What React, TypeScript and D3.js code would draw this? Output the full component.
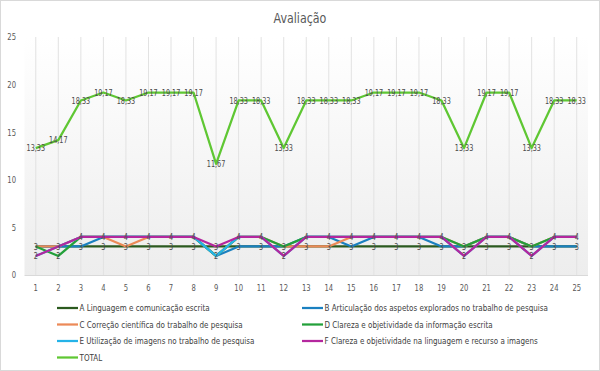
import React from "react";
import * as d3 from "d3";

const categories = d3.range(1, 26).map(String);

const serieA = [3, 3, 3, 3, 3, 3, 3, 3, 3, 3, 3, 3, 3, 3, 3, 3, 3, 3, 3, 3, 3, 3, 3, 3, 3];
const serieB = [3, 3, 3, 4, 4, 4, 4, 4, 2, 3, 3, 3, 4, 4, 3, 4, 4, 4, 3, 3, 4, 4, 3, 3, 3];
const serieC = [3, 3, 4, 4, 3, 4, 4, 4, 2, 4, 4, 3, 3, 3, 4, 4, 4, 4, 4, 3, 4, 4, 3, 4, 4];
const serieD = [3, 2, 4, 4, 4, 4, 4, 4, 2, 4, 4, 3, 4, 4, 4, 4, 4, 4, 4, 3, 4, 4, 3, 4, 4];
const serieE = [2, 3, 4, 4, 4, 4, 4, 4, 2, 4, 4, 2, 4, 4, 4, 4, 4, 4, 4, 2, 4, 4, 2, 4, 4];
const serieF = [2, 3, 4, 4, 4, 4, 4, 4, 3, 4, 4, 2, 4, 4, 4, 4, 4, 4, 4, 2, 4, 4, 2, 4, 4];
const total = [13.33, 14.17, 18.33, 19.17, 18.33, 19.17, 19.17, 19.17, 11.67, 18.33, 18.33, 13.33, 18.33,
  18.33, 18.33, 19.17, 19.17, 19.17, 18.33, 13.33, 19.17, 19.17, 13.33, 18.33, 18.33];

const yTicks = [0, 5, 10, 15, 20, 25];

const series = [
  { name: "A Linguagem e comunicação escrita", values: serieA, color: "#2b5a1f" },
  { name: "B Articulação dos aspetos explorados no trabalho de pesquisa", values: serieB, color: "#1a80c0" },
  { name: "C Correção científica do trabalho de pesquisa", values: serieC, color: "#ec8a58" },
  { name: "D Clareza e objetividade da informação escrita", values: serieD, color: "#23a03a" },
  { name: "E Utilização de imagens no trabalho de pesquisa", values: serieE, color: "#25b3e8" },
  { name: "F Clareza e objetividade na linguagem e recurso a imagens", values: serieF, color: "#b4279e" },
  { name: "TOTAL", values: total, color: "#5fc733" },
];

const W = 600, H = 371;
const font = "'DejaVu Sans Condensed', 'Liberation Sans Narrow', sans-serif";

const fmt = (v: number) => (Number.isInteger(v) ? String(v) : v.toFixed(2).replace(".", ","));

// condensed text: squeeze horizontally around its anchor point
function Txt({ x, y, size, fill, anchor = "start", sx = 0.8, children }: any) {
  return (
    <g transform={`translate(${x},${y}) scale(${sx},1)`}>
      <text dy="0.35em" textAnchor={anchor} fontSize={size} fill={fill}>{children}</text>
    </g>
  );
}

export default function App() {
  const x = d3.scalePoint().domain(categories).range([24.5, 588]).padding(0.5);
  const y = d3.scaleLinear().domain([0, 25]).range([275, 37]);

  const line = d3.line<number>()
    .x((_, i) => x(categories[i]) as number)
    .y(d => y(d));

  // identical labels of the criteria sit on top of each other, draw each value once per point
  const pointLabels = categories.flatMap((c, i) => {
    const vals = Array.from(new Set(series.map(s => s.values[i])));
    return vals.map(v => ({ c, v }));
  });

  return (
    <svg width={W} height={H} style={{ position: "absolute", left: 0, top: 0, background: "#fff" }}
      fontFamily={font}>
      <defs>
        <linearGradient id="bg" x1="0" y1="0" x2="0" y2="1">
          <stop offset="0%" stopColor="#ffffff" />
          <stop offset="100%" stopColor="#ededed" />
        </linearGradient>
      </defs>
      <rect x={0.5} y={0.5} width={W - 1} height={H - 1} fill="#fff" stroke="#d9d9d9" />
      <Txt x={300} y={18} size={14.5} fill="#595959" anchor="middle" sx={0.85}>Avaliação</Txt>

      <rect x={24.5} y={37} width={563.5} height={238} fill="url(#bg)" />
      {categories.map(c => (
        <line key={c} x1={x(c)} x2={x(c)} y1={37} y2={275} stroke="#e2e2e2" strokeWidth={1} />
      ))}
      <line x1={24.5} x2={588} y1={275.5} y2={275.5} stroke="#d9d9d9" />

      {yTicks.map(t => (
        <Txt key={t} x={16} y={y(t)} anchor="end" size={9.5} fill="#595959">{t}</Txt>
      ))}
      {categories.map(c => (
        <Txt key={c} x={x(c)} y={288} anchor="middle" size={9.5} fill="#595959">{c}</Txt>
      ))}

      {series.map(s => (
        <path key={s.name} d={line(s.values) || ""} fill="none" stroke={s.color} strokeWidth={2.25}
          strokeLinejoin="round" />
      ))}

      {pointLabels.map(({ c, v }) => (
        <Txt key={c + "-" + v} x={x(c)} y={y(v)} anchor="middle" size={9} fill="#4a4a4a">{fmt(v)}</Txt>
      ))}

      {series.map((s, i) => {
        const col = i === 6 ? 0 : i % 2;
        const row = Math.floor(i / 2);
        const lx = col === 0 ? 57 : 302;
        const ly = 308 + row * 16.5;
        return (
          <g key={s.name}>
            <line x1={lx} x2={lx + 21} y1={ly} y2={ly} stroke={s.color} strokeWidth={2.25} />
            <Txt x={lx + 22.5} y={ly} size={9.5} fill="#404040" sx={0.84}>{s.name}</Txt>
          </g>
        );
      })}
    </svg>
  );
}
